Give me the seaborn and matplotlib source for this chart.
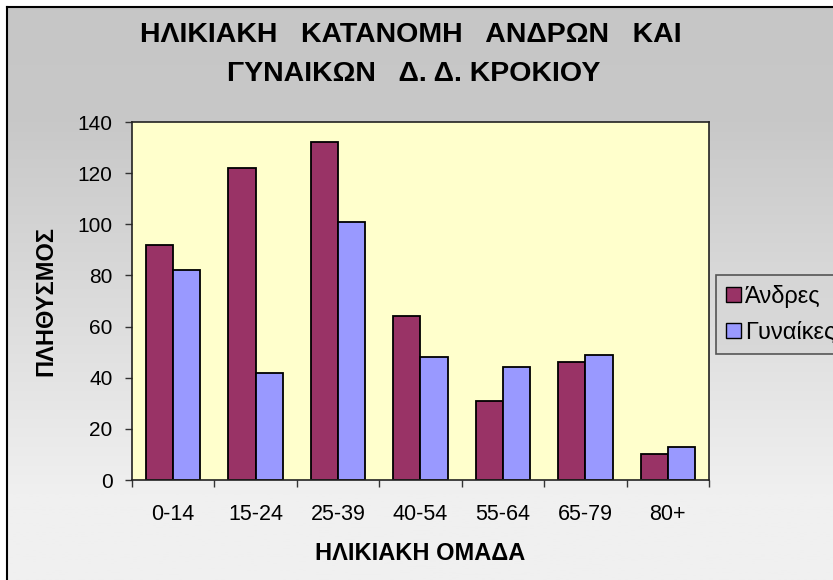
import numpy as np
import pandas as pd
import seaborn as sns
import matplotlib.pyplot as plt
from matplotlib.colors import LinearSegmentedColormap
from matplotlib.patches import Patch

# age groups and population counts
age_groups = ['0-14', '15-24', '25-39', '40-54', '55-64', '65-79', '80+']
men = [92, 122, 132, 64, 31, 46, 10]
women = [82, 42, 101, 48, 44, 49, 13]
series_names = ['Άνδρες', 'Γυναίκες']

df = pd.DataFrame({
    'group': age_groups * 2,
    'value': men + women,
    'sex': [series_names[0]] * len(age_groups) + [series_names[1]] * len(age_groups),
})

sns.set_style('white')
plt.rcParams['font.family'] = ['Liberation Sans', 'DejaVu Sans']
plt.rcParams.update({'text.color': 'black', 'axes.labelcolor': 'black',
                     'xtick.color': 'black', 'ytick.color': 'black'})

W, H = 833, 580
fig = plt.figure(figsize=(W / 100, H / 100), dpi=100)
fig.patch.set_facecolor('white')

# chart area background: grey gradient with black frame
bg = fig.add_axes([7 / W, 0, 1, 1 - 7 / H])
grad = np.linspace(0, 1, 256).reshape(-1, 1)
cmap = LinearSegmentedColormap.from_list(
    'g', [(0, '#c6c6c6'), (0.2, '#c8c8c8'), (0.85, '#f0f0f0'), (1, '#f0f0f0')])
bg.imshow(grad, aspect='auto', cmap=cmap, extent=[0, 1, 0, 1])
bg.set_xticks([])
bg.set_yticks([])
for s in ['right', 'bottom']:
    bg.spines[s].set_visible(False)
for s in ['left', 'top']:
    bg.spines[s].set_color('black')
    bg.spines[s].set_linewidth(1.5)

ax = fig.add_axes([132 / W, 100 / H, (709 - 132) / W, (480 - 122) / H])
palette = {series_names[0]: '#993366', series_names[1]: '#9999ff'}
sns.barplot(data=df, x='group', y='value', hue='sex', palette=palette, width=0.66,
            edgecolor='black', linewidth=1.3, saturation=1, ax=ax, legend=False)
ax.set_facecolor('#ffffcc')
ax.set_xlim(-0.5, 6.5)
ax.set_ylim(0, 140)
ax.set_yticks(range(0, 141, 20))
ax.tick_params(axis='y', direction='out', length=5, width=1, color='#333333',
               labelsize=15, left=True, pad=9)
ax.set_xticks(np.arange(-0.5, 7, 1), minor=True)
ax.tick_params(axis='x', which='minor', direction='out', length=5, width=1, color='#333333', bottom=True)
ax.tick_params(axis='x', which='major', length=0, labelsize=15.5, pad=17)
for s in ax.spines.values():
    s.set_color('#222222')
    s.set_linewidth(1.2)

ax.set_xlabel('ΗΛΙΚΙΑΚΗ ΟΜΑΔΑ', fontsize=17, fontweight='bold', va='center')
ax.xaxis.set_label_coords(0.5, (480 - 553) / 358)
ax.set_ylabel('ΠΛΗΘΥΣΜΟΣ', fontsize=17, fontweight='bold', va='center')
ax.yaxis.set_label_coords((46 - 132) / 577, 0.5)

fig.text(411 / W, 1 - 35 / H, 'ΗΛΙΚΙΑΚΗ   ΚΑΤΑΝΟΜΗ   ΑΝΔΡΩΝ   ΚΑΙ', ha='center', va='center',
         fontsize=20.5, fontweight='bold')
fig.text(414 / W, 1 - 74 / H, 'ΓΥΝΑΙΚΩΝ   Δ. Δ. ΚΡΟΚΙΟΥ', ha='center', va='center',
         fontsize=20.5, fontweight='bold')

handles = [Patch(facecolor=palette[n], edgecolor='black', linewidth=1) for n in series_names]
leg = fig.legend(handles, series_names, loc='upper left', bbox_to_anchor=(716 / W, 1 - 275 / H),
                 fontsize=17, frameon=True, fancybox=False, handlelength=0.62, handleheight=0.62,
                 handletextpad=0.18, labelspacing=0.6, borderpad=0.42, borderaxespad=0)
leg.get_frame().set_facecolor('#d6d6d6')
leg.get_frame().set_edgecolor('#333333')
leg.get_frame().set_linewidth(1.2)

fig.savefig('out.png', dpi=100)
